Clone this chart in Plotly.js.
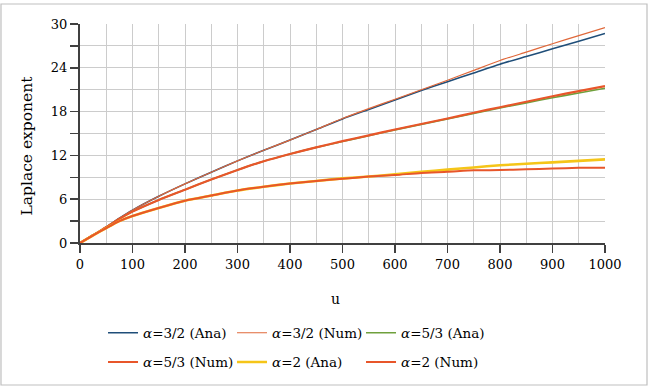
<!DOCTYPE html>
<html>
<head>
<meta charset="utf-8">
<script src="https://cdn.plot.ly/plotly-3.0.1.min.js"></script>
<style>html,body{margin:0;padding:0;background:#fff;}#chart{width:652px;height:390px;}</style>
</head>
<body>
<div id="chart"></div>
<script>
// u values (x axis)
var u = [0, 25, 50, 75, 100, 150, 200, 250, 300, 350, 400, 450, 500, 550, 600, 650, 700, 750, 800, 850, 900, 950, 1000];

// alpha = 3/2
var a32Ana = [0, 1.1, 2.2, 3.4, 4.5, 6.4, 8.1, 9.7, 11.25, 12.7, 14.1, 15.55, 17.0, 18.3, 19.6, 20.9, 22.1, 23.3, 24.5, 25.55, 26.6, 27.65, 28.7];
var a32Num = [0, 1.1, 2.2, 3.4, 4.5, 6.4, 8.1, 9.7, 11.25, 12.7, 14.1, 15.55, 17.05, 18.4, 19.7, 21.0, 22.3, 23.65, 25.0, 26.15, 27.3, 28.4, 29.5];

// alpha = 5/3
var a53Ana = [0, 1.1, 2.15, 3.3, 4.3, 5.9, 7.3, 8.7, 10.0, 11.2, 12.2, 13.1, 13.9, 14.7, 15.5, 16.25, 17.0, 17.75, 18.5, 19.2, 19.9, 20.55, 21.2];
var a53Num = [0, 1.1, 2.15, 3.3, 4.3, 5.9, 7.3, 8.7, 10.0, 11.2, 12.2, 13.1, 13.95, 14.75, 15.55, 16.3, 17.05, 17.85, 18.6, 19.35, 20.1, 20.8, 21.5];

// alpha = 2
var a2Ana = [0, 1.05, 2.05, 3.0, 3.7, 4.8, 5.8, 6.5, 7.2, 7.7, 8.15, 8.5, 8.85, 9.1, 9.4, 9.75, 10.05, 10.35, 10.65, 10.85, 11.05, 11.25, 11.45];
var a2Num = [0, 1.05, 2.05, 3.0, 3.7, 4.8, 5.8, 6.5, 7.2, 7.7, 8.15, 8.5, 8.8, 9.1, 9.3, 9.6, 9.75, 9.95, 10.0, 10.1, 10.2, 10.3, 10.3];

var names = ['<i>α</i>=3/2 (Ana)', '<i>α</i>=3/2 (Num)', '<i>α</i>=5/3 (Ana)',
             '<i>α</i>=5/3 (Num)', '<i>α</i>=2 (Ana)', '<i>α</i>=2 (Num)'];
var xTitle = 'u';
var yTitle = 'Laplace exponent';

var series = [a32Ana, a32Num, a53Ana, a53Num, a2Ana, a2Num];
var colors = ['#1F4E79', '#E0683A', '#6FA03C', '#E8562A', '#F5C518', '#E8562A'];
var widths = [1.6, 1.2, 1.6, 2.2, 2.6, 2.0];
var legends = ['legend', 'legend', 'legend', 'legend2', 'legend2', 'legend2'];

var traces = series.map(function (s, i) {
  return {
    x: u, y: s, name: names[i], type: 'scatter', mode: 'lines',
    line: {color: colors[i], width: widths[i], shape: 'spline', smoothing: 0.6},
    legend: legends[i], hoverinfo: 'skip'
  };
});

var fam = 'DejaVu Serif';
function f(sz) { return {family: fam, size: sz, color: '#000'}; }

var layout = {
  width: 652, height: 390,
  margin: {l: 80, r: 47, t: 24, b: 147},
  paper_bgcolor: '#fff', plot_bgcolor: '#fff',
  font: f(13),
  showlegend: true,
  xaxis: {
    range: [0, 1000], dtick: 100, tick0: 0,
    showgrid: true, gridcolor: '#cccccc', gridwidth: 1,
    minor: {dtick: 50, showgrid: true, gridcolor: '#cccccc', gridwidth: 1},
    showline: true, linecolor: '#404040', linewidth: 2,
    ticks: 'outside', ticklen: 8, tickcolor: '#404040', tickwidth: 1.5,
    zeroline: false, tickfont: f(13)
  },
  yaxis: {
    range: [0, 30], dtick: 6, tick0: 0,
    showgrid: true, gridcolor: '#cccccc', gridwidth: 1,
    minor: {dtick: 3, showgrid: true, gridcolor: '#cccccc', gridwidth: 1,
            ticks: 'outside', ticklen: 8, tickcolor: '#404040', tickwidth: 1.5},
    showline: true, linecolor: '#404040', linewidth: 2,
    ticks: 'outside', ticklen: 8, tickcolor: '#404040', tickwidth: 1.5,
    zeroline: false, tickfont: f(13)
  },
  annotations: [
    {text: xTitle, xref: 'paper', yref: 'paper', x: 0.486, y: -0.256,
     xanchor: 'center', yanchor: 'middle', showarrow: false, font: f(14)},
    {text: yTitle, xref: 'paper', yref: 'paper', x: -0.101, y: 0.445,
     xanchor: 'center', yanchor: 'middle', textangle: -90, showarrow: false, font: f(15.5)}
  ],
  legend: {
    orientation: 'h', xref: 'container', yref: 'container',
    x: 0.158, y: 0.186, xanchor: 'left', yanchor: 'top',
    entrywidth: 84, entrywidthmode: 'pixels',
    font: f(13.5), bgcolor: 'rgba(0,0,0,0)', itemwidth: 30
  },
  legend2: {
    orientation: 'h', xref: 'container', yref: 'container',
    x: 0.158, y: 0.111, xanchor: 'left', yanchor: 'top',
    entrywidth: 84, entrywidthmode: 'pixels',
    font: f(13.5), bgcolor: 'rgba(0,0,0,0)', itemwidth: 30
  },
  shapes: [{
    type: 'rect', xref: 'paper', yref: 'paper',
    x0: -0.1505, x1: 1.08, y0: -0.6484, y1: 1.0913,
    line: {color: '#bfbfbf', width: 1.2}, fillcolor: 'rgba(0,0,0,0)', layer: 'below'
  }]
};

Plotly.newPlot('chart', traces, layout, {displayModeBar: false, staticPlot: true});
</script>
</body>
</html>
